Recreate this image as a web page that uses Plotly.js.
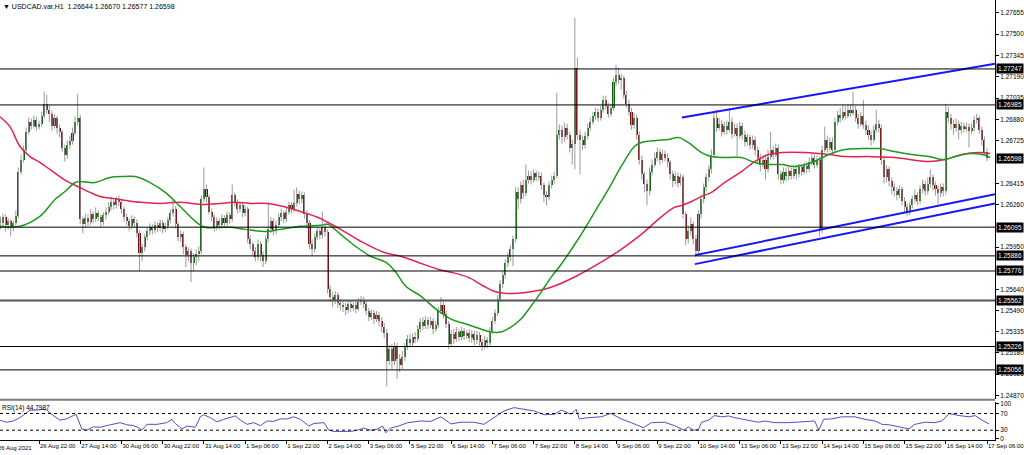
<!DOCTYPE html>
<html><head><meta charset="utf-8">
<script src="https://cdn.plot.ly/plotly-3.0.1.min.js"></script>
<style>html,body{margin:0;padding:0;background:#fff;overflow:hidden}#chart{width:1024px;height:455px}</style>
</head><body><div id="chart"></div>
<script>
const symbol = "USDCAD.var,H1";
const firstOpen = 1.26181;
const closes = [
1.26152,1.26123,1.26167,1.26109,1.26137,1.26094,1.26123,1.26173,1.26500,1.26587,
1.26660,1.26790,1.26863,1.26835,1.26878,1.26827,1.26849,1.26907,1.26994,1.26950,
1.26921,1.26835,1.26893,1.26820,1.26790,1.26675,1.26617,1.26696,1.26726,1.26784,
1.26863,1.26893,1.26152,1.26116,1.26159,1.26131,1.26188,1.26152,1.26195,1.26167,
1.26131,1.26181,1.26209,1.26239,1.26276,1.26254,1.26297,1.26276,1.26224,1.26167,
1.26137,1.26101,1.26152,1.26123,1.26050,1.25905,1.25949,1.26022,1.26064,1.26094,
1.26072,1.26109,1.26086,1.26123,1.26079,1.26101,1.26145,1.26195,1.26224,1.26116,
1.26021,1.26043,1.25949,1.25891,1.25919,1.25832,1.25876,1.25898,1.25919,1.26297,
1.26370,1.26312,1.26209,1.26167,1.26094,1.26137,1.26109,1.26159,1.26123,1.26181,
1.26152,1.26326,1.26276,1.26224,1.26254,1.26195,1.26224,1.26007,1.25970,1.25919,
1.25876,1.25970,1.25891,1.25847,1.26007,1.26079,1.26137,1.26064,1.26109,1.26167,
1.26195,1.26152,1.26209,1.26254,1.26224,1.26268,1.26333,1.26297,1.26326,1.26188,
1.26123,1.25970,1.25934,1.26022,1.26064,1.26036,1.26094,1.26058,1.25644,1.25586,
1.25556,1.25600,1.25542,1.25527,1.25513,1.25491,1.25535,1.25506,1.25527,1.25498,
1.25549,1.25564,1.25535,1.25484,1.25440,1.25469,1.25426,1.25455,1.25411,1.25368,
1.25324,1.25121,1.25208,1.25121,1.25223,1.25135,1.25092,1.25150,1.25223,1.25281,
1.25252,1.25295,1.25281,1.25353,1.25404,1.25375,1.25419,1.25382,1.25411,1.25353,
1.25382,1.25484,1.25527,1.25462,1.25390,1.25244,1.25317,1.25281,1.25332,1.25295,
1.25339,1.25303,1.25324,1.25288,1.25317,1.25273,1.25310,1.25259,1.25230,1.25273,
1.25252,1.25339,1.25411,1.25469,1.25571,1.25680,1.25746,1.25832,1.25876,1.25934,
1.26007,1.26348,1.26297,1.26399,1.26341,1.26442,1.26471,1.26442,1.26486,1.26457,
1.26471,1.26399,1.26326,1.26312,1.26399,1.26442,1.26471,1.26769,1.26805,1.26748,
1.26820,1.26769,1.26675,1.26704,1.27256,1.26769,1.26733,1.26696,1.26762,1.26820,
1.26863,1.26907,1.26935,1.26893,1.26950,1.27023,1.26979,1.26921,1.26965,1.27154,
1.27205,1.27168,1.27183,1.27059,1.26994,1.26935,1.26842,1.26893,1.26769,1.26587,
1.26479,1.26406,1.26355,1.26500,1.26551,1.26602,1.26646,1.26587,1.26631,1.26602,
1.26566,1.26479,1.26428,1.26471,1.26420,1.26457,1.26188,1.26007,1.26064,1.26116,
1.26007,1.25919,1.26188,1.26297,1.26384,1.26457,1.26515,1.26624,1.26893,1.26820,
1.26849,1.26790,1.26835,1.26805,1.26863,1.26776,1.26820,1.26762,1.26835,1.26769,
1.26718,1.26748,1.26696,1.26733,1.26660,1.26602,1.26551,1.26587,1.26515,1.26609,
1.26660,1.26624,1.26675,1.26479,1.26442,1.26500,1.26464,1.26507,1.26471,1.26515,
1.26479,1.26530,1.26500,1.26537,1.26515,1.26573,1.26602,1.26551,1.26587,1.26079,
1.26660,1.26733,1.26675,1.26718,1.26660,1.26863,1.26914,1.26893,1.26935,1.26907,
1.26950,1.26928,1.26950,1.26893,1.26849,1.26907,1.26842,1.26805,1.26769,1.26733,
1.26805,1.26849,1.26820,1.26587,1.26457,1.26515,1.26428,1.26385,1.26355,1.26326,
1.26370,1.26282,1.26239,1.26209,1.26254,1.26297,1.26326,1.26282,1.26370,1.26406,
1.26355,1.26413,1.26457,1.26399,1.26370,1.26341,1.26384,1.26355,1.26935,1.26893,
1.26849,1.26820,1.26849,1.26805,1.26835,1.26813,1.26827,1.26798,1.26820,1.26878,
1.26893,1.26805,1.26733,1.26644,1.26598];
const highs = [
1.26209,1.26173,1.26195,1.26188,1.26159,1.26152,1.26145,1.26217,1.26530,1.26624,
1.26689,1.26820,1.26893,1.26885,1.26907,1.26899,1.26871,1.26935,1.27081,1.27059,
1.26987,1.26943,1.26914,1.26907,1.26842,1.26805,1.26696,1.26726,1.26762,1.26820,
1.26899,1.27066,1.26914,1.26173,1.26195,1.26188,1.26224,1.26209,1.26239,1.26217,
1.26188,1.26203,1.26239,1.26276,1.26312,1.26297,1.26318,1.26326,1.26304,1.26246,
1.26195,1.26159,1.26181,1.26173,1.26152,1.26072,1.25977,1.26043,1.26094,1.26123,
1.26116,1.26137,1.26131,1.26152,1.26145,1.26131,1.26167,1.26224,1.26297,1.26246,
1.26137,1.26072,1.26064,1.25970,1.25949,1.25941,1.25905,1.25934,1.25955,1.26326,
1.26530,1.26406,1.26333,1.26231,1.26188,1.26167,1.26159,1.26188,1.26181,1.26209,
1.26203,1.26406,1.26348,1.26297,1.26282,1.26276,1.26254,1.26246,1.26036,1.25992,
1.25949,1.26007,1.25992,1.25919,1.26036,1.26276,1.26167,1.26159,1.26145,1.26195,
1.26231,1.26217,1.26239,1.26282,1.26276,1.26370,1.26385,1.26362,1.26355,1.26348,
1.26217,1.26145,1.26007,1.26050,1.26094,1.26086,1.26209,1.26123,1.26079,1.25673,
1.25622,1.25629,1.25622,1.25571,1.25556,1.25542,1.25564,1.25556,1.25549,1.25556,
1.25578,1.25593,1.25586,1.25556,1.25506,1.25498,1.25491,1.25484,1.25477,1.25440,
1.25397,1.25353,1.25237,1.25244,1.25259,1.25252,1.25172,1.25193,1.25252,1.25310,
1.25317,1.25324,1.25332,1.25382,1.25433,1.25440,1.25448,1.25440,1.25440,1.25433,
1.25411,1.25513,1.25586,1.25549,1.25484,1.25411,1.25346,1.25353,1.25368,1.25353,
1.25368,1.25361,1.25346,1.25353,1.25346,1.25339,1.25339,1.25332,1.25281,1.25303,
1.25295,1.25368,1.25440,1.25498,1.25600,1.25709,1.25774,1.25861,1.25912,1.25963,
1.26036,1.26385,1.26385,1.26428,1.26442,1.26551,1.26507,1.26500,1.26515,1.26507,
1.26500,1.26493,1.26420,1.26355,1.26428,1.26471,1.26500,1.27074,1.26842,1.26835,
1.26856,1.26849,1.26790,1.26733,1.27619,1.27328,1.26805,1.26762,1.26790,1.26849,
1.26893,1.26935,1.26965,1.26958,1.26979,1.27052,1.27052,1.27001,1.26994,1.27183,
1.27277,1.27256,1.27212,1.27197,1.27088,1.27023,1.26965,1.26928,1.26914,1.26790,
1.26617,1.26500,1.26442,1.26530,1.26587,1.26638,1.26675,1.26667,1.26660,1.26653,
1.26631,1.26587,1.26507,1.26500,1.26493,1.26486,1.26479,1.26209,1.26109,1.26167,
1.26137,1.26036,1.26217,1.26333,1.26413,1.26486,1.26544,1.26660,1.26928,1.26950,
1.26893,1.26878,1.26863,1.26871,1.26950,1.26893,1.26849,1.26849,1.26863,1.26856,
1.26798,1.26776,1.26769,1.26762,1.26755,1.26682,1.26631,1.26617,1.26609,1.26660,
1.26790,1.26689,1.26704,1.26696,1.26507,1.26530,1.26530,1.26537,1.26530,1.26544,
1.26537,1.26558,1.26551,1.26566,1.26573,1.26602,1.26631,1.26624,1.26617,1.26609,
1.26689,1.26827,1.26762,1.26748,1.26748,1.26893,1.26943,1.26965,1.26987,1.26979,
1.26994,1.26987,1.27081,1.26979,1.26921,1.26935,1.27023,1.26871,1.26835,1.26798,
1.26835,1.26950,1.26878,1.26842,1.26617,1.26544,1.26537,1.26457,1.26413,1.26385,
1.26399,1.26391,1.26312,1.26268,1.26282,1.26326,1.26370,1.26348,1.26399,1.26442,
1.26435,1.26457,1.26515,1.26479,1.26428,1.26399,1.26413,1.26413,1.26994,1.26972,
1.26921,1.26878,1.26885,1.26871,1.26863,1.26856,1.26856,1.26849,1.26849,1.26907,
1.26921,1.26907,1.26827,1.26755,1.26670];
const lows = [
1.26109,1.26079,1.26094,1.26064,1.26079,1.26028,1.26064,1.26101,1.26159,1.26479,
1.26566,1.26639,1.26769,1.26805,1.26812,1.26798,1.26805,1.26827,1.26885,1.26921,
1.26863,1.26798,1.26812,1.26776,1.26748,1.26645,1.26572,1.26594,1.26667,1.26696,
1.26762,1.26835,1.26116,1.26050,1.26094,1.26101,1.26109,1.26123,1.26131,1.26137,
1.26094,1.26109,1.26152,1.26188,1.26217,1.26224,1.26231,1.26246,1.26195,1.26137,
1.26109,1.26064,1.26079,1.26094,1.26021,1.25774,1.25847,1.25919,1.26000,1.26036,
1.26043,1.26050,1.26058,1.26064,1.26050,1.26058,1.26079,1.26123,1.26173,1.26086,
1.25992,1.25985,1.25898,1.25804,1.25847,1.25695,1.25774,1.25818,1.25847,1.25898,
1.26276,1.26276,1.26188,1.26137,1.26064,1.26072,1.26079,1.26086,1.26101,1.26101,
1.26123,1.26131,1.26246,1.26195,1.26203,1.26167,1.26173,1.25977,1.25934,1.25883,
1.25847,1.25854,1.25847,1.25804,1.25825,1.25985,1.26050,1.26036,1.26043,1.26086,
1.26137,1.26123,1.26131,1.26188,1.26195,1.26203,1.26246,1.26261,1.26268,1.26159,
1.26086,1.25934,1.25883,1.25912,1.26000,1.26007,1.26014,1.26028,1.25614,1.25550,
1.25513,1.25535,1.25506,1.25491,1.25477,1.25455,1.25469,1.25477,1.25484,1.25469,
1.25484,1.25527,1.25506,1.25455,1.25411,1.25419,1.25390,1.25404,1.25375,1.25332,
1.25288,1.24933,1.25092,1.25063,1.25092,1.24990,1.25041,1.25063,1.25121,1.25201,
1.25223,1.25230,1.25252,1.25259,1.25332,1.25346,1.25353,1.25353,1.25361,1.25317,
1.25332,1.25361,1.25462,1.25433,1.25361,1.25208,1.25223,1.25244,1.25259,1.25266,
1.25273,1.25273,1.25281,1.25259,1.25252,1.25237,1.25244,1.25223,1.25193,1.25208,
1.25215,1.25223,1.25317,1.25390,1.25448,1.25549,1.25651,1.25724,1.25804,1.25847,
1.25811,1.25985,1.26224,1.26268,1.26304,1.26319,1.26413,1.26406,1.26420,1.26428,
1.26435,1.26370,1.26276,1.26254,1.26290,1.26377,1.26413,1.26449,1.26733,1.26704,
1.26718,1.26733,1.26639,1.26551,1.26515,1.26733,1.26479,1.26660,1.26667,1.26733,
1.26798,1.26842,1.26878,1.26863,1.26871,1.26928,1.26950,1.26893,1.26899,1.26943,
1.27125,1.27139,1.27096,1.27030,1.26965,1.26907,1.26805,1.26812,1.26733,1.26551,
1.26442,1.26348,1.26254,1.26326,1.26471,1.26530,1.26573,1.26551,1.26566,1.26573,
1.26530,1.26442,1.26385,1.26406,1.26385,1.26399,1.26159,1.25963,1.25977,1.26036,
1.25970,1.25883,1.25898,1.26159,1.26268,1.26355,1.26428,1.26486,1.26602,1.26790,
1.26798,1.26755,1.26769,1.26769,1.26784,1.26740,1.26755,1.26609,1.26740,1.26733,
1.26682,1.26689,1.26660,1.26667,1.26617,1.26558,1.26500,1.26530,1.26442,1.26493,
1.26587,1.26587,1.26602,1.26442,1.26406,1.26413,1.26428,1.26435,1.26442,1.26449,
1.26442,1.26457,1.26471,1.26479,1.26486,1.26493,1.26544,1.26522,1.26530,1.26028,
1.26050,1.26639,1.26639,1.26646,1.26624,1.26639,1.26835,1.26856,1.26871,1.26878,
1.26885,1.26899,1.26907,1.26863,1.26812,1.26827,1.26812,1.26769,1.26733,1.26689,
1.26711,1.26784,1.26784,1.26551,1.26413,1.26420,1.26391,1.26333,1.26319,1.26290,
1.26304,1.26254,1.26203,1.26173,1.26181,1.26231,1.26268,1.26254,1.26261,1.26341,
1.26326,1.26333,1.26384,1.26362,1.26326,1.26261,1.26312,1.26319,1.26333,1.26856,
1.26805,1.26769,1.26790,1.26733,1.26776,1.26784,1.26790,1.26675,1.26776,1.26790,
1.26849,1.26776,1.26689,1.26620,1.26577];

// time labels, one every 16 hourly bars (first at bar 0)
const timeLabels = ["26 Aug 2021","26 Aug 22:00","27 Aug 14:00","30 Aug 06:00","30 Aug 22:00","31 Aug 14:00",
"1 Sep 06:00","1 Sep 22:00","2 Sep 14:00","3 Sep 06:00","5 Sep 22:00","6 Sep 14:00","7 Sep 06:00",
"7 Sep 22:00","8 Sep 14:00","9 Sep 06:00","9 Sep 22:00","10 Sep 14:00","13 Sep 06:00","13 Sep 22:00",
"14 Sep 14:00","15 Sep 06:00","15 Sep 22:00","16 Sep 14:00","17 Sep 06:00"];
const barsPerLabel = 16;

const priceTicks = [1.27655,1.27500,1.27345,1.27190,1.27035,1.26880,1.26725,1.26415,1.26260,
1.25950,1.25640,1.25490,1.25335,1.25180,1.25025,1.24870];
const levels = [1.27247,1.26985,1.26095,1.25886,1.25776,1.25562,1.25226,1.25056];

// moving averages (bar index, price)
const maGreenIdx = [0.8,8.6,16.3,22.2,26.1,30,31.9,37.7,43.6,49.4,53.3,59.1,65,70.8,76.7,80.5,86.4,90.3,96.1,103.9,
109.7,117.5,125.3,128,133.1,138.9,144.7,150.6,154.5,158.4,164.2,170.1,175.9,181.7,187.5,191.4,195.3,199.2,203.1,207,
210.9,214.8,218.7,224.5,228.4,232.3,237,242,247.1,249.8,255.6,260.3,264.2,268.1,273.2,277,282.9,288.7,293.8,299.2,
304.3,309.3,316,322.6,328.8,335.4,342,348.2,354.9,361.5,367.3,371.6,377,382.1,385.2];
const maGreenVal = [1.26101,1.26101,1.26173,1.26297,1.26355,1.26420,1.26428,1.26420,1.26457,1.26464,1.26464,1.26420,1.26348,1.26246,1.26137,1.26094,1.26094,1.26094,1.26079,1.26064,
1.26079,1.26101,1.26109,1.26116,1.26043,1.25955,1.25883,1.25840,1.25767,1.25665,1.25593,1.25498,1.25426,1.25390,1.25353,1.25332,1.25332,1.25368,1.25426,1.25520,
1.25622,1.25731,1.25825,1.25985,1.26101,1.26224,1.26370,1.26537,1.26682,1.26711,1.26726,1.26733,1.26748,1.26711,1.26638,1.26609,1.26602,1.26602,1.26566,1.26551,
1.26551,1.26537,1.26566,1.26624,1.26660,1.26667,1.26667,1.26646,1.26624,1.26609,1.26587,1.26609,1.26631,1.26624,1.26602];
const maRedIdx = [0.8,4.7,8.6,12.5,16.3,20.2,26.9,31.9,35.8,39.7,47.5,55.3,63,70.8,78.6,86.4,91.4,98.1,104.7,110.9,
117.5,124.1,128,133.1,140.9,149.8,156.4,163,170.8,175.9,182.5,188.7,192.6,196.5,202,208.2,214.8,224.5,234.2,242,
249.8,256.4,262.6,265.4,269.3,273.2,277,282.1,288.7,293.8,299.2,304.3,313.2,322.6,328.8,338.1,348.2,361.5,367.7,374.3,
380.9,385.2];
const maRedVal = [1.26899,1.26827,1.26682,1.26609,1.26566,1.26515,1.26428,1.26384,1.26348,1.26319,1.26297,1.26276,1.26268,1.26276,1.26261,1.26268,1.26276,1.26268,1.26268,1.26246,
1.26209,1.26167,1.26131,1.26079,1.25992,1.25912,1.25883,1.25840,1.25789,1.25767,1.25731,1.25665,1.25629,1.25614,1.25614,1.25629,1.25658,1.25738,1.25840,1.25934,
1.26043,1.26152,1.26239,1.26253,1.26282,1.26319,1.26348,1.26420,1.26500,1.26573,1.26624,1.26638,1.26638,1.26624,1.26609,1.26609,1.26602,1.26573,1.26587,1.26624,
1.26638,1.26631];

// trend lines (bar index, price)
const trendUpperIdx = [265.6, 387.1], trendUpperVal = [1.26893, 1.27285];
const trendLowAIdx = [270.6, 387.1], trendLowAVal = [1.25891, 1.26334];
const trendLowBIdx = [270.6, 387.1], trendLowBVal = [1.25826, 1.26268];

// RSI(14)
const rsiLast = 44.7987;
const rsiIdx = [0.8,3.4,6,8.6,11.2,12.5,15.1,17.6,19,20.9,24.1,26.7,29.3,30.4,32.6,34.5,37.1,39.7,42.3,44.9,
47.5,50.1,52.6,54.6,55.9,57.9,61.8,65.6,67.6,68.9,71.5,73.4,76.7,78.6,79.9,82.5,85.1,87.7,90.3,92.2,
94.2,96.8,99.3,102,104.5,107.1,109.7,112.3,114.9,117.5,120.7,122.7,126.6,128.5,130.5,133.1,137,139.7,142,144.7,
147.5,149.4,150.6,152.5,155.6,159.1,164.2,168.1,172,175.9,179.8,184.8,188.7,192.6,196.5,200.4,204.3,208.2,212.1,216,
218.7,222.6,224.5,225.7,229.2,234.2,238,242,245.9,250.6,253.7,258.8,262.6,266.5,268,270,272,273.2,275.9,278.2,
281,283.7,286,291.4,295.3,297.7,301.6,307,312,317.1,318.7,320.6,323.7,327.6,332.7,336.6,340.5,343.2,345.9,349.8,
353.7,356,359.9,363.8,366.5,369.3,373.2,377,379.4,382.1,384.8];
const rsiVal = [54,49,52,60,72,78,78,80,78,68,54,57,65,68,33,30,38,37,41,44,
48,43,41,36,30,44,44,48,56,46,33,40,37,62,67,60,50,56,60,64,
54,44,48,41,52,51,57,57,62,56,40,46,48,30,27,27,27,30,35,30,
33,40,24,35,40,48,52,51,62,45,49,49,44,60,76,84,80,76,67,68,
78,68,80,57,60,62,70,57,48,36,48,49,41,30,38,30,32,49,54,65,
62,64,60,54,49,52,48,48,50,52,30,56,57,62,62,56,52,44,43,38,
33,44,49,48,52,70,65,62,65,54,45];

// ---- build traces ----
const N = closes.length;
const idx = closes.map((_, i) => i);
const opens = closes.map((c, i) => i === 0 ? firstOpen : closes[i - 1]);
const wx = [], wy = [];
for (let i = 0; i < N; i++) { wx.push(i, i, null); wy.push(lows[i], highs[i], null); }
const bodyColor = closes.map((c, i) => c >= opens[i] ? '#0b640b' : '#6e1111');

const font = 'Liberation Sans, Arial, sans-serif';
const traces = [
  {type:'scatter', mode:'lines', x:wx, y:wy, line:{color:'#9a9a9a', width:1}, hoverinfo:'skip', xaxis:'x', yaxis:'y'},
  {type:'bar', x:idx, base:opens, y:closes.map((c, i) => c - opens[i]), width:0.8,
   marker:{color:bodyColor, line:{width:0}}, hoverinfo:'skip', xaxis:'x', yaxis:'y'},
  {type:'scatter', mode:'lines', x:maRedIdx, y:maRedVal, line:{color:'#e5234e', width:1.5, shape:'spline'}, xaxis:'x', yaxis:'y'},
  {type:'scatter', mode:'lines', x:maGreenIdx, y:maGreenVal, line:{color:'#1f9a1f', width:1.5, shape:'spline'}, xaxis:'x', yaxis:'y'},
  {type:'scatter', mode:'lines', x:trendUpperIdx, y:trendUpperVal, line:{color:'#1515ff', width:2}, xaxis:'x', yaxis:'y'},
  {type:'scatter', mode:'lines', x:trendLowAIdx, y:trendLowAVal, line:{color:'#1515ff', width:2}, xaxis:'x', yaxis:'y'},
  {type:'scatter', mode:'lines', x:trendLowBIdx, y:trendLowBVal, line:{color:'#1515ff', width:2}, xaxis:'x', yaxis:'y'},
  {type:'scatter', mode:'lines', x:rsiIdx, y:rsiVal, line:{color:'#5050c8', width:1}, xaxis:'x', yaxis:'y2'}
];

const shapes = levels.map(v => ({type:'line', xref:'paper', x0:0, x1:1, yref:'y', y0:v, y1:v,
  line:{color: v === 1.25562 ? '#555' : '#000', width: v === 1.25562 ? 2 : 1}}));
shapes.push({type:'line', xref:'paper', x0:0, x1:1, yref:'y2', y0:70, y1:70, line:{color:'#000', width:1, dash:'dot'}});
shapes.push({type:'line', xref:'paper', x0:0, x1:1, yref:'y2', y0:30, y1:30, line:{color:'#000', width:1, dash:'dot'}});
shapes.push({type:'line', xref:'paper', x0:0, x1:1, yref:'paper', y0:0.0915, y1:0.0915, line:{color:'#7a7a7a', width:2}});

const last = N - 1;
const annotations = [
  {xref:'paper', yref:'paper', x:0, y:1, xanchor:'left', yanchor:'top', xshift:1, yshift:-1, showarrow:false,
   text:'▼ ' + symbol + '  ' + opens[last].toFixed(5) + ' ' + highs[last].toFixed(5) + ' ' + lows[last].toFixed(5) + ' ' + closes[last].toFixed(5),
   font:{family:font, size:7, color:'#000'}},
  {xref:'paper', yref:'paper', x:0, y:0.086, xanchor:'left', yanchor:'top', xshift:0, showarrow:false,
   text:'RSI(14) ' + rsiLast.toFixed(4), font:{family:font, size:6.5, color:'#000'}},
  {xref:'paper', yref:'paper', x:0, y:0, xanchor:'left', yanchor:'top', xshift:-4, yshift:-3, showarrow:false,
   text:timeLabels[0], font:{family:font, size:6, color:'#000'}}
];
levels.concat([closes[last]]).forEach(v => annotations.push({
  xref:'paper', x:1, xanchor:'left', xshift:1, yref:'y', y:v, yanchor:'middle', showarrow:false,
  text:v.toFixed(5), bgcolor:'#000', borderpad:1, font:{family:font, size:6.5, color:'#fff'}}));

const tickIdx = timeLabels.map((_, k) => k * barsPerLabel);

const layout = {
  width:1024, height:455, margin:{l:0, r:29, t:0, b:15},
  paper_bgcolor:'#fff', plot_bgcolor:'#fff', showlegend:false, bargap:0,
  xaxis:{anchor:'y2', range:[0.85, 387.1], showgrid:false, zeroline:false, showline:true, linecolor:'#000', linewidth:1,
    tickvals:tickIdx.slice(1), ticktext:timeLabels.slice(1), ticks:'outside', ticklen:3, tickcolor:'#000', tickangle:0,
    ticklabelposition:'outside right', ticklabeloverflow:'allow', tickfont:{family:font, size:6, color:'#000'}},
  yaxis:{domain:[0.0935, 1], range:[1.24845, 1.27749], side:'right', showgrid:false, zeroline:false,
    showline:true, linecolor:'#000', linewidth:1, ticks:'outside', ticklen:3, tickcolor:'#000',
    tickvals:priceTicks, ticktext:priceTicks.map(v => v.toFixed(5)), tickfont:{family:font, size:6.5, color:'#000'}},
  yaxis2:{domain:[0, 0.0864], range:[6.5, 97.5], side:'right', showgrid:false, zeroline:false,
    showline:true, linecolor:'#000', linewidth:1, ticks:'outside', ticklen:3, tickcolor:'#000',
    tickvals:[93, 70, 30, 9], ticktext:['100','70','30','0'], tickfont:{family:font, size:6.5, color:'#000'}},
  shapes:shapes, annotations:annotations
};
Plotly.newPlot('chart', traces, layout, {staticPlot:true, displayModeBar:false});
</script></body></html>
